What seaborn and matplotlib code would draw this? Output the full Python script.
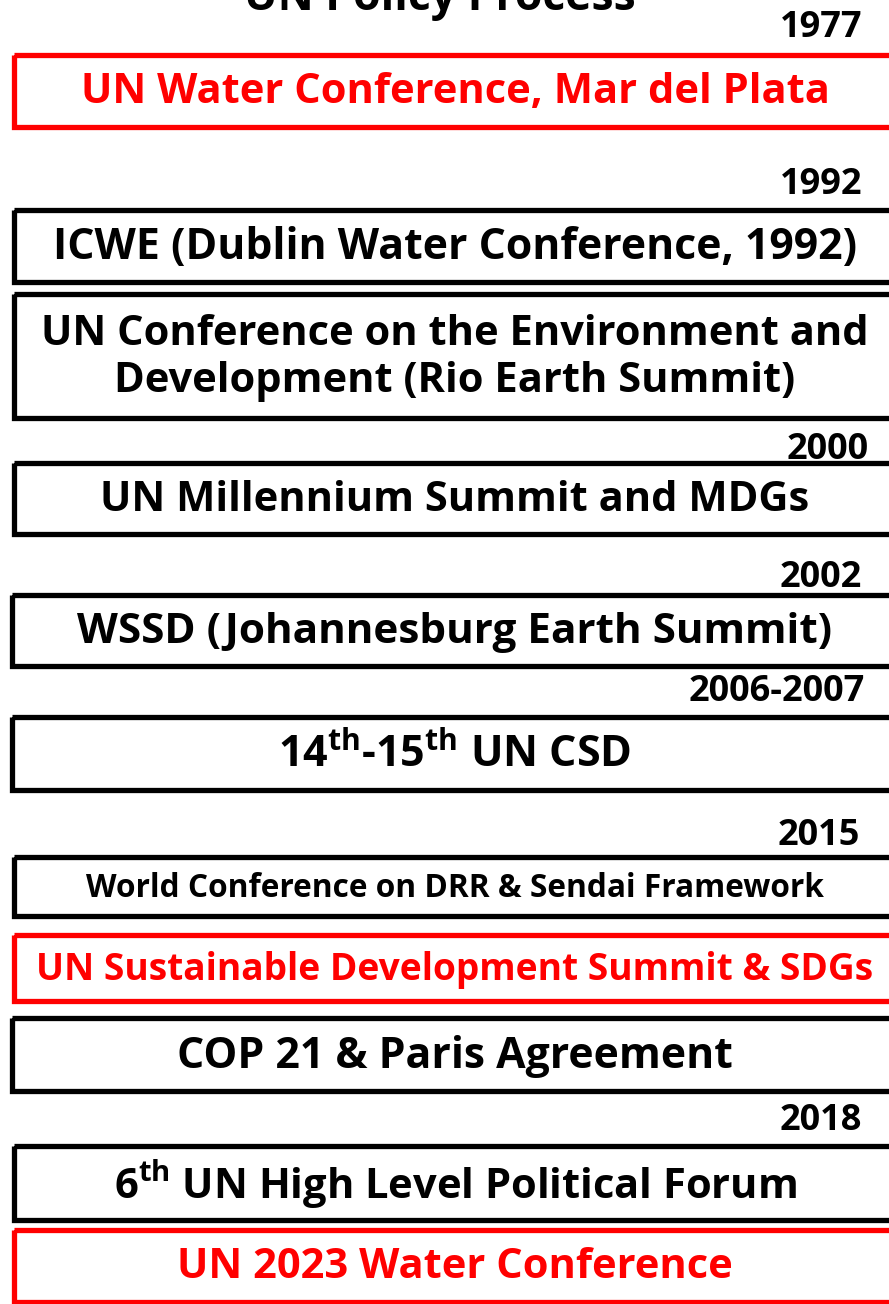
import matplotlib
matplotlib.use("Agg")
import matplotlib.pyplot as plt
import seaborn as sns
from matplotlib.patches import Rectangle

sns.set_theme(style="white")
plt.rcParams['font.family'] = ['Open Sans', 'Noto Sans CJK JP', 'DejaVu Sans']
plt.rcParams['mathtext.fontset'] = 'custom'
plt.rcParams['mathtext.rm'] = 'Open Sans:bold'
plt.rcParams['mathtext.it'] = 'Open Sans:bold'
plt.rcParams['mathtext.bf'] = 'Open Sans:bold'

# events of the UN policy process
events = [
    "UN Water Conference, Mar del Plata",
    "ICWE (Dublin Water Conference, 1992)",
    "UN Conference on the Environment and\nDevelopment (Rio Earth Summit)",
    "UN Millennium Summit and MDGs",
    "WSSD (Johannesburg Earth Summit)",
    "14$^{\\mathrm{th}}$-15$^{\\mathrm{th}}$ UN CSD",
    "World Conference on DRR & Sendai Framework",
    "UN Sustainable Development Summit & SDGs",
    "COP 21 & Paris Agreement",
    "6$^{\\mathrm{th}}$ UN High Level Political Forum",
    "UN 2023 Water Conference",
]
highlight = [True, False, False, False, False, False, False, True, False, False, True]
years = ["1977", "1992", "2000", "2002", "2006-2007", "2015", "2018"]

# layout (pixels)
box_top = [55, 210, 294, 463, 595, 717, 857, 935, 1018, 1146, 1230]
box_bot = [127, 282, 418, 534, 666, 790, 916, 1001, 1091, 1220, 1302]
box_left = [14, 14, 14, 14, 12, 12, 14, 14, 12, 14, 14]
text_size = [30, 30.8, 30, 30, 30.4, 31, 22.8, 26.7, 30.8, 30, 30]
year_x = [821, 821, 828, 821, 777, 819, 821]
year_base = [37, 194, 459, 587, 701, 845, 1130]

W, H = 889, 1304
fig = plt.figure(figsize=(W / 100, H / 100), dpi=100)
ax = fig.add_axes([0, 0, 1, 1])
ax.set_xlim(0, W)
ax.set_ylim(H, 0)
ax.axis("off")

ax.text(440, 10, "UN Policy Process", ha="center", va="baseline",
        fontsize=32, fontweight="bold", color="black")

for lab, red, t, b, l, fs in zip(events, highlight, box_top, box_bot, box_left, text_size):
    col = "#ff0000" if red else "black"
    ax.add_patch(Rectangle((l, t), W + 20 - l, b - t, fill=False,
                           edgecolor=col, linewidth=3.8, clip_on=True))
    ax.text(455, (t + b) / 2 + 2, lab, ha="center", va="center", fontsize=fs,
            fontweight="bold", color=col, linespacing=1.22)

for y, xx, yy in zip(years, year_x, year_base):
    ax.text(xx, yy, y, ha="center", va="baseline", fontsize=26,
            fontweight="bold", color="black")

fig.savefig("out.png", dpi=100, facecolor="white")
